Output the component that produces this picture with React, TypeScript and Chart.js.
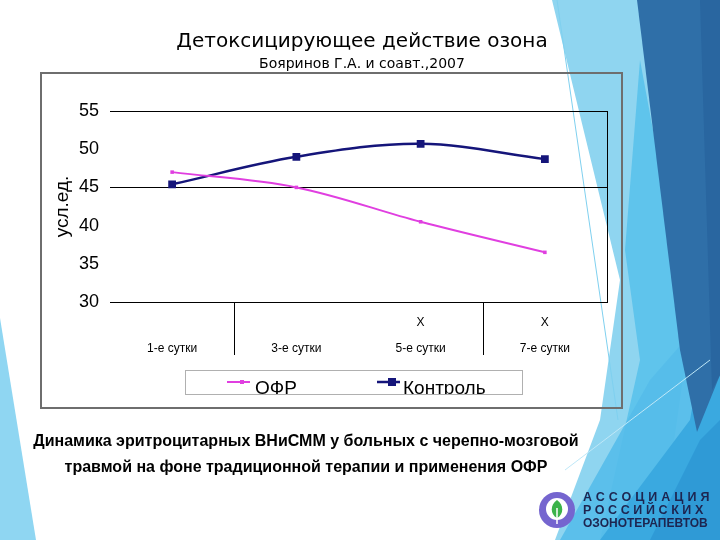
import React, { useEffect, useRef } from 'react';
import { Chart, registerables } from 'chart.js';

Chart.register(...registerables);

const categories = ['1-е сутки', '3-е сутки', '5-е сутки', '7-е сутки'];
const significance = ['', '', 'X', 'X'];
const groupBreaks = [1, 3];
const ofrValues = [47, 45, 40.5, 36.5];
const controlValues = [45.4, 49, 50.7, 48.7];
const seriesNames = ['ОФР', 'Контроль'];
const seriesColors = ['#e03fe0', '#15157a'];
const yMin = 30;
const yMax = 55;
const yStep = 5;
const gridValues = [30, 45, 55];

const FONT = "'Liberation Sans', Arial, sans-serif";

const slidePlugin = {
  id: 'slideDecor',
  beforeDraw(chart: any) {
    const ctx = chart.ctx;
    ctx.save();
    ctx.strokeStyle = '#6e6e6e';
    ctx.lineWidth = 2;
    ctx.strokeRect(41, 73, 581, 335);
    ctx.restore();
  },
  afterDraw(chart: any) {
    const ctx = chart.ctx;
    const area = chart.chartArea;
    const xs = chart.scales.x;
    ctx.save();
    ctx.strokeStyle = '#000';
    ctx.lineWidth = 1;
    // right border of plot
    ctx.beginPath();
    ctx.moveTo(Math.round(area.right) + 0.5, area.top);
    ctx.lineTo(Math.round(area.right) + 0.5, area.bottom);
    ctx.stroke();
    // group separators below axis
    groupBreaks.forEach((b) => {
      const x = (xs.getPixelForValue(b - 1) + xs.getPixelForValue(b)) / 2;
      ctx.beginPath();
      ctx.moveTo(Math.round(x) + 0.5, area.bottom);
      ctx.lineTo(Math.round(x) + 0.5, area.bottom + 53);
      ctx.stroke();
    });
    // legend box (clipped like the original)
    const bx = 185, by = 370, bw = 337, bh = 24;
    ctx.fillStyle = '#ffffff';
    ctx.fillRect(bx, by, bw, bh);
    ctx.strokeStyle = '#b0b0b0';
    ctx.strokeRect(bx + 0.5, by + 0.5, bw, bh);
    ctx.beginPath();
    ctx.rect(bx + 1, by + 1, bw - 1, bh - 1);
    ctx.clip();
    const items = [
      { x: 227, tx: 255, r: 2, lw: 2 },
      { x: 377, tx: 403, r: 4, lw: 2.5 },
    ];
    chart.data.datasets.forEach((ds: any, i: number) => {
      const it = items[i];
      ctx.strokeStyle = ds.borderColor;
      ctx.lineWidth = it.lw;
      ctx.beginPath();
      ctx.moveTo(it.x, 382);
      ctx.lineTo(it.x + 23, 382);
      ctx.stroke();
      ctx.fillStyle = ds.borderColor;
      ctx.fillRect(it.x + 15 - it.r, 382 - it.r, it.r * 2, it.r * 2);
      ctx.fillStyle = '#000';
      ctx.font = `19px ${FONT}`;
      ctx.textBaseline = 'alphabetic';
      ctx.textAlign = 'left';
      ctx.fillText(ds.label, it.tx, 394);
    });
    ctx.restore();
  },
};

function Background() {
  return (
    <svg width={720} height={540} style={{ position: 'absolute', left: 0, top: 0 }}>
      <rect x={0} y={0} width={720} height={540} fill="#ffffff" />
      <polygon points="0,318 36,540 0,540" fill="#8fd6f2" />
      <polygon points="552,0 720,0 720,540 555,540 600,420 620,280" fill="#8fd5f0" />
      <polygon points="640,60 690,330 660,540 600,540 640,360 625,250" fill="#5fc4ec" />
      <polygon points="560,540 720,540 720,300 650,380" fill="#55bdea" opacity={0.9} />
      <polygon points="600,540 720,540 720,250 690,420" fill="#3aa9e0" />
      <polygon points="650,540 720,540 720,420 700,440" fill="#2f9ad6" />
      <polygon points="637,0 720,0 720,375 697,432 680,350" fill="#2f6fa8" />
      <polygon points="700,0 720,0 720,375 712,390" fill="#2966a0" />
      <line x1={557} y1={0} x2={618} y2={420} stroke="#7fd0ef" strokeWidth={1} />
      <line x1={565} y1={470} x2={710} y2={360} stroke="#bfe8f8" strokeWidth={1} />
      <circle cx={557} cy={510} r={18} fill="#7565cf" />
      <circle cx={557} cy={509} r={11} fill="#ffffff" />
      <path d="M557,500 C564,505 564,514 557,518 C550,514 550,505 557,500 Z" fill="#3bb34a" />
      <line x1={557} y1={508} x2={557} y2={524} stroke="#ffffff" strokeWidth={1.5} />
    </svg>
  );
}

export default function App() {
  const canvasRef = useRef<HTMLCanvasElement | null>(null);

  useEffect(() => {
    const canvas = canvasRef.current;
    if (!canvas) return;
    const chart = new Chart(canvas, {
      type: 'line',
      data: {
        labels: categories.map((c, i) => [significance[i], c]),
        datasets: [
          {
            label: seriesNames[0],
            data: ofrValues,
            borderColor: seriesColors[0],
            backgroundColor: seriesColors[0],
            borderWidth: 2,
            tension: 0.35,
            pointStyle: 'rect',
            pointRadius: 2.5,
            pointBorderWidth: 0,
          },
          {
            label: seriesNames[1],
            data: controlValues,
            borderColor: seriesColors[1],
            backgroundColor: seriesColors[1],
            borderWidth: 2.5,
            tension: 0.35,
            pointStyle: 'rect',
            pointRadius: 5.5,
            pointBorderWidth: 0,
          },
        ],
      },
      options: {
        animation: false,
        responsive: false,
        maintainAspectRatio: false,
        layout: { padding: { left: 41, right: 113, top: 111, bottom: 0 } },
        plugins: {
          legend: { display: false },
          tooltip: { enabled: false },
          title: { display: false },
        },
        scales: {
          x: {
            offset: true,
            grid: { display: false, drawTicks: false },
            border: { display: true, color: '#000', width: 1 },
            ticks: {
              color: '#000',
              autoSkip: false,
              maxRotation: 0,
              padding: 8,
              font: { family: FONT, size: 12, lineHeight: 2.15 },
            },
            afterFit: (s: any) => {
              s.height = 238;
            },
          },
          y: {
            min: yMin,
            max: yMax,
            ticks: {
              stepSize: yStep,
              color: '#000',
              padding: 11,
              font: { family: FONT, size: 18 },
            },
            grid: {
              drawTicks: false,
              lineWidth: 1,
              color: (c: any) => (gridValues.includes(c.tick?.value) ? '#000' : 'rgba(0,0,0,0)'),
            },
            border: { display: false },
            title: {
              display: true,
              text: 'усл.ед.',
              color: '#000',
              font: { family: FONT, size: 19 },
              padding: { top: 10, bottom: 0 },
            },
            afterFit: (s: any) => {
              s.width = 69;
            },
          },
        },
      },
      plugins: [slidePlugin],
    });
    return () => chart.destroy();
  }, []);

  return (
    <div style={{ position: 'fixed', left: 0, top: 0, width: 720, height: 540, overflow: 'hidden', background: '#fff' }}>
      <Background />
      <canvas ref={canvasRef} width={720} height={540} style={{ position: 'absolute', left: 0, top: 0, width: 720, height: 540 }} />
      <div style={{ position: 'absolute', left: 0, width: 724, top: 28, textAlign: 'center', fontFamily: "'DejaVu Sans', sans-serif", fontSize: 20, color: '#000', whiteSpace: 'nowrap', lineHeight: '24px' }}>
        Детоксицирующее действие озона
      </div>
      <div style={{ position: 'absolute', left: 0, width: 724, top: 54, textAlign: 'center', fontFamily: "'DejaVu Sans', sans-serif", fontSize: 14, color: '#000', whiteSpace: 'nowrap', lineHeight: '18px' }}>
        Бояринов Г.А. и соавт.,2007
      </div>
      <div style={{ position: 'absolute', left: 0, width: 612, top: 428, textAlign: 'center', fontFamily: FONT, fontWeight: 'bold', fontSize: 16, color: '#000', whiteSpace: 'nowrap', lineHeight: '26px' }}>
        Динамика эритроцитарных ВНиСММ у больных с черепно-мозговой
        <br />
        травмой на фоне традиционной терапии и применения ОФР
      </div>
      <div style={{ position: 'absolute', left: 583, top: 491, fontFamily: FONT, fontWeight: 'bold', fontSize: 12.5, color: '#1d2550', lineHeight: '12.8px', whiteSpace: 'nowrap' }}>
        <div style={{ letterSpacing: 4.0 }}>АССОЦИАЦИЯ</div>
        <div style={{ letterSpacing: 3.6 }}>РОССИЙСКИХ</div>
        <div style={{ letterSpacing: 0, fontSize: 12 }}>ОЗОНОТЕРАПЕВТОВ</div>
      </div>
    </div>
  );
}
